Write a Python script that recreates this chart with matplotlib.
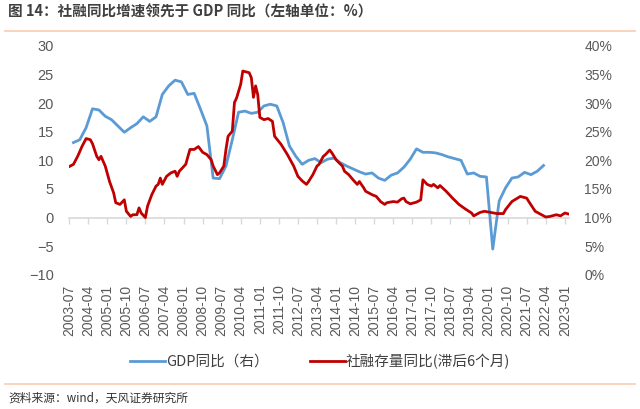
import pandas as pd
import matplotlib
matplotlib.use("Agg")
import matplotlib.pyplot as plt
import matplotlib.dates as mdates
from matplotlib.lines import Line2D

plt.rcParams["font.family"] = ["Liberation Sans", "Noto Sans CJK SC", "DejaVu Sans"]

# =========================
# Data
# =========================
# GDP 同比 (quarterly, left scale)
gdp_start = "2003-09"
gdp_vals = [
    13.1, 13.6,
    15.7, 19.0, 18.8, 17.7,
    17.1, 16.0, 14.9, 15.7,
    16.4, 17.6, 16.8, 17.6,
    21.5, 23.0, 24.0, 23.7,
    21.5, 21.7, 18.9, 16.0,
    6.9, 6.8, 9.0, 13.6,
    18.4, 18.6, 18.2, 18.4,
    19.5, 19.8, 19.5, 16.6,
    12.5, 10.7, 9.3, 10.0,
    10.3, 9.6, 10.2, 10.4,
    9.6, 9.0, 8.5, 8.0,
    7.6, 7.8, 6.9, 6.5,
    7.4, 7.8, 8.8, 10.2,
    12.0, 11.4, 11.4, 11.3,
    11.0, 10.6, 10.3, 10.0,
    7.6, 7.8, 7.2, 7.1,
    -5.5, 2.9, 5.2, 6.9,
    7.1, 7.9, 7.5, 8.1,
    9.1,
]

# 社融存量同比 (lagged 6 months, right scale, %)
tsf_dates = [
    "2003-07", "2003-09", "2003-11", "2004-01", "2004-03", "2004-05", "2004-06", "2004-08",
    "2004-09", "2004-10", "2004-12", "2005-02", "2005-04", "2005-05", "2005-07", "2005-09",
    "2005-10", "2005-12", "2006-01", "2006-03", "2006-04", "2006-05", "2006-07", "2006-08",
    "2006-10", "2006-12", "2007-01", "2007-02", "2007-03", "2007-05", "2007-07", "2007-09",
    "2007-10", "2007-11", "2008-02", "2008-04", "2008-06", "2008-08", "2008-10", "2008-12",
    "2009-02", "2009-03", "2009-05", "2009-06", "2009-08", "2009-09", "2009-10", "2009-12",
    "2010-01", "2010-02", "2010-04", "2010-05", "2010-08", "2010-09", "2010-10", "2010-11",
    "2010-12", "2011-01", "2011-03", "2011-05", "2011-07", "2011-08", "2011-11", "2012-02",
    "2012-05", "2012-07", "2012-08", "2012-09", "2012-11", "2012-12", "2013-02", "2013-04",
    "2013-05", "2013-07", "2013-08", "2013-10", "2013-11", "2014-01", "2014-02", "2014-04",
    "2014-05", "2014-07", "2014-09", "2014-11", "2014-12", "2015-02", "2015-03", "2015-06",
    "2015-08", "2015-10", "2015-12", "2016-01", "2016-04", "2016-06", "2016-08", "2016-09",
    "2016-10", "2016-12", "2017-03", "2017-05", "2017-06", "2017-08", "2017-10", "2017-11",
    "2018-01", "2018-02", "2018-05", "2018-08", "2018-11", "2019-02", "2019-05", "2019-06",
    "2019-09", "2019-11", "2020-02", "2020-05", "2020-08", "2020-09", "2020-12", "2021-04",
    "2021-07", "2021-08", "2021-11", "2022-01", "2022-04", "2022-06", "2022-09", "2022-11",
    "2023-01", "2023-02", "2023-03",
]
tsf_vals = [
    18.9, 19.3, 20.7, 22.4, 23.8, 23.6, 22.9, 20.7,
    20.1, 20.7, 19.0, 16.3, 14.3, 12.6, 12.3, 13.1,
    11.1, 10.2, 10.5, 10.5, 11.7, 10.8, 10.0, 12.0,
    14.0, 15.5, 15.8, 16.9, 15.8, 17.2, 17.8, 18.1,
    17.2, 18.1, 19.3, 21.9, 21.9, 22.4, 21.4, 21.0,
    20.1, 19.0, 17.5, 17.8, 19.0, 21.9, 24.2, 25.1,
    30.1, 30.9, 33.3, 35.6, 35.3, 34.4, 31.0, 33.0,
    31.5, 27.5, 27.1, 27.3, 26.8, 24.2, 22.8, 21.0,
    19.0, 17.2, 16.8, 16.4, 15.8, 16.3, 17.5, 19.0,
    19.3, 20.7, 21.0, 21.8, 21.3, 20.1, 19.7, 19.0,
    18.1, 17.5, 16.6, 15.8, 16.3, 15.2, 14.6, 14.0,
    13.7, 12.8, 12.3, 12.6, 12.8, 12.7, 13.3, 13.4,
    12.8, 12.4, 12.7, 13.1, 16.6, 15.8, 15.5, 15.8,
    15.2, 15.6, 14.6, 13.4, 12.3, 11.5, 10.8, 10.3,
    10.9, 11.1, 10.9, 10.7, 10.7, 11.4, 12.8, 13.7,
    13.4, 12.8, 11.1, 10.7, 10.1, 10.2, 10.5, 10.3,
    10.8, 10.7, 10.6,
]

gdp_label = "GDP同比（右）"
tsf_label = "社融存量同比(滞后6个月)"
title = "图 14：社融同比增速领先于 GDP 同比（左轴单位：%）"
source = "资料来源：wind，天风证券研究所"

gdp_dates = pd.date_range(gdp_start, periods=len(gdp_vals), freq="3MS")
tsf_x = pd.to_datetime(tsf_dates)
tick_dates = pd.date_range("2003-07", "2023-01", freq="9MS")

# =========================
# Plot
# =========================
fig = plt.figure(figsize=(6.4, 4.09), dpi=100)
ax = fig.add_axes([0.108, 0.328, 0.781, 0.56])
ax2 = ax.twinx()

blue = "#5B9BD5"
red = "#C00000"
grey = "#595959"

l1, = ax.plot(gdp_dates, gdp_vals, color=blue, lw=2.0, label=gdp_label)
l2, = ax2.plot(tsf_x, tsf_vals, color=red, lw=2.0, label=tsf_label)

ax.set_ylim(-10, 30)
ax.set_yticks(range(-10, 31, 5))
ax2.set_ylim(0, 40)
ax2.set_yticks(range(0, 41, 5))
ax2.set_yticklabels([f"{v}%" for v in range(0, 41, 5)])
ax.set_xlim(tsf_x[0], tsf_x[-1])

ax.set_xticks(tick_dates)
ax.xaxis.set_major_formatter(mdates.DateFormatter("%Y-%m"))
ax.tick_params(axis="x", length=0, pad=7, labelrotation=90, labelsize=10, colors=grey)
ax.tick_params(axis="y", length=0, pad=11, labelsize=10.5, colors=grey)
ax2.tick_params(axis="y", length=0, pad=11, labelsize=10, colors=grey)

for a in (ax, ax2):
    for s in a.spines.values():
        s.set_visible(False)

# zero line with tick marks (category axis crosses at 0)
zero_axis = ax.secondary_xaxis(0.25)
zero_axis.set_xticks(mdates.date2num(tick_dates))
zero_axis.set_xticklabels([])
zero_axis.tick_params(axis="x", direction="out", length=4, width=1, color="#D9D9D9")
zero_axis.spines["bottom"].set_color("#D9D9D9")
zero_axis.spines["bottom"].set_linewidth(1.2)
ax.set_zorder(1)
ax2.set_zorder(2)
ax.patch.set_visible(False)

fig.legend(handles=[l1, l2], loc="center", bbox_to_anchor=(0.5, 0.117), ncol=2,
           frameon=False, handlelength=2.4, handletextpad=0.1,
           columnspacing=2.8, labelcolor="#404040",
           prop={"family": ["Noto Sans CJK SC"], "size": 10.5})

# header / footer
fig.text(0.013, 0.971, title, fontsize=10.5, fontweight="bold", color="#404040",
         va="center", ha="left", family=["Noto Sans CJK SC"])
fig.text(0.013, 0.027, source, fontsize=8.5, color="#333333",
         va="center", ha="left", family=["Noto Sans CJK SC"])
fig.add_artist(Line2D([0.008, 0.992], [0.925, 0.925], transform=fig.transFigure,
                      color="#F8CBAD", lw=1.2))
fig.add_artist(Line2D([0.008, 0.992], [0.061, 0.061], transform=fig.transFigure,
                      color="#F8CBAD", lw=1.2))

fig.savefig("out.png", dpi=100)
